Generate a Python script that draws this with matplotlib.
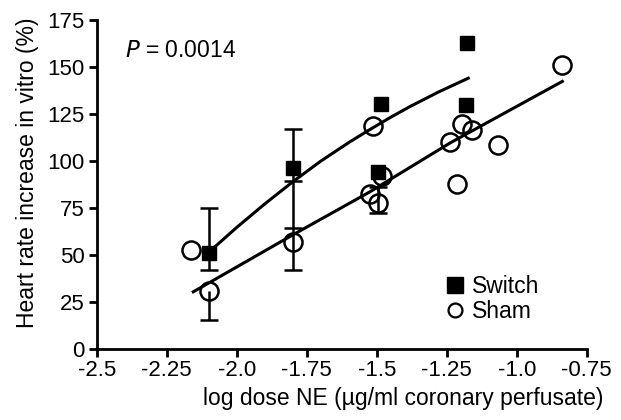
import numpy as np
import matplotlib
matplotlib.use("Agg")
import matplotlib.pyplot as plt

plt.rcParams['font.family'] = ['Liberation Sans', 'DejaVu Sans']

# mean values with error bars
switch_mean_x = [-2.098, -1.798]
switch_mean_y = [51, 96]
sham_mean_x = [-2.1, -1.8]
sham_mean_y = [30.5, 57]

# single animals
switch_x = [-1.486, -1.494, -1.176, -1.181]
switch_y = [130.5, 94, 162.5, 129.5]
sham_x = [-2.164, -1.512, -1.524, -1.494, -1.482, -1.238, -1.196, -1.161, -1.212, -1.066, -0.839]
sham_y = [52.4, 118.4, 82.5, 77.6, 91.8, 110, 119.4, 116.6, 87.9, 108.2, 150.8]

# error bar segments and caps
err_x = [-2.098, -2.098, -1.798, -1.494]
err_lo = [42, 15, 42, 72]
err_hi = [75, 30.5, 117, 86]
cap_x = [-2.098, -2.098, -2.098, -1.798, -1.798, -1.798, -1.798, -1.494, -1.494]
cap_y = [75, 42, 15, 117, 89, 64, 42, 86, 72]

# fitted curves
switch_fit_x = [-2.098, -2.0, -1.9, -1.798, -1.7, -1.6, -1.536, -1.45, -1.381, -1.28, -1.173]
switch_fit_y = [51.5, 64.5, 77, 89, 99.8, 109.7, 115.6, 123.2, 128.9, 136.6, 144]
sham_fit_x = [-2.155, -1.8, -1.524, -1.238, -0.837]
sham_fit_y = [30.2, 60.5, 83.5, 109.5, 142.3]

fig = plt.figure(figsize=(6.21, 4.20), dpi=100)
ax = fig.add_axes([0.1557, 0.1702, 0.7891, 0.7822])

ax.vlines(err_x, err_lo, err_hi, color='black', lw=1.8, zorder=2)
ax.plot(cap_x, cap_y, ls='none', marker='_', ms=13.5, mew=1.8, color='black', zorder=2)

ax.plot(switch_fit_x, switch_fit_y, color='black', lw=2.2, zorder=2)
ax.plot(sham_fit_x, sham_fit_y, color='black', lw=2.2, zorder=2)

ax.plot(sham_mean_x + sham_x, sham_mean_y + sham_y, ls='none', marker='o', ms=13,
        mfc='none', mec='black', mew=1.8, zorder=3)
ax.plot(switch_mean_x + switch_x, switch_mean_y + switch_y, ls='none', marker='s', ms=10.5,
        mfc='black', mec='black', zorder=4)

# legend handles
h1, = ax.plot([], [], ls='none', marker='s', ms=11, mfc='black', mec='black')
h2, = ax.plot([], [], ls='none', marker='o', ms=10, mfc='none', mec='black', mew=1.6)
ax.legend([h1, h2], ['Switch', 'Sham'], frameon=False, fontsize=16.5, loc='upper left',
          bbox_to_anchor=(0.715, 0.225), borderpad=0, borderaxespad=0,
          handlelength=0.7, handletextpad=0.4, labelspacing=0.1)

ax.text(-2.4, 158.8, r'$P$ = 0.0014', fontsize=16.5, va='center', ha='left')

ax.set_xlim(-2.5, -0.75)
ax.set_ylim(0, 175)
ax.set_xticks([-2.5, -2.25, -2.0, -1.75, -1.5, -1.25, -1.0, -0.75])
ax.set_xticklabels(['-2.5', '-2.25', '-2.0', '-1.75', '-1.5', '-1.25', '-1.0', '-0.75'])
ax.set_yticks([0, 25, 50, 75, 100, 125, 150, 175])
ax.spines['top'].set_visible(False)
ax.spines['right'].set_visible(False)
for s in ['left', 'bottom']:
    ax.spines[s].set_linewidth(2)
ax.tick_params(direction='out', length=5.5, width=2, labelsize=16, pad=3, colors='black')
ax.set_xlabel('log dose NE (µg/ml coronary perfusate)', fontsize=16.5)
ax.set_ylabel('Heart rate increase in vitro (%)', fontsize=16.5)
ax.xaxis.set_label_coords(0.625, -0.118)
ax.yaxis.set_label_coords(-0.118, 0.534)

fig.savefig("out.png", dpi=100)
